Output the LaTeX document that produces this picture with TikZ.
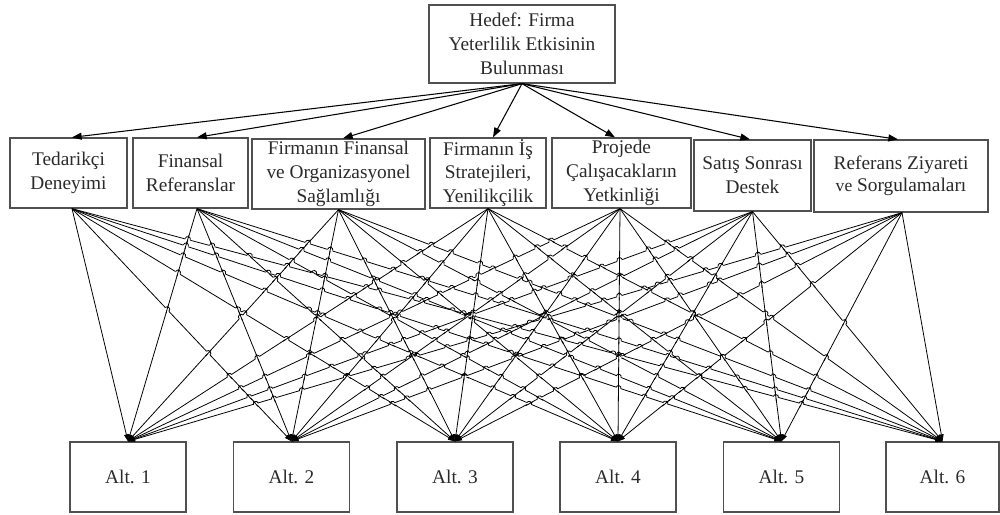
\documentclass[tikz,border=0pt]{standalone}
\usepackage{fontspec}
\setmainfont{Liberation Serif}
\usetikzlibrary{arrows.meta,calc}
\definecolor{boxline}{HTML}{505050}
\definecolor{inkgray}{HTML}{2A2A2A}
% line end points in hundreds of units (for the jump calculation)
\def\SrcX{{0.72,1.97,3.385,4.88,6.20,7.525,9.02}}
\def\SrcY{{2.08,2.08,2.09,2.08,2.08,2.11,2.12}}
\def\TgtX{{1.28,2.915,4.55,6.18,7.815,9.425}}
\def\TgtY{4.42}
\begin{document}
\begin{tikzpicture}[x=0.02cm,y=-0.02cm,
  box/.style={draw=boxline,line width=0.75pt,inner sep=0pt,align=center,
    text=inkgray,font=\fontsize{11}{13.6}\selectfont},
  critbox/.style={box,minimum height=1.4cm},
  altbox/.style={box,minimum width=2.32cm,minimum height=1.4cm},
  toparrow/.style={draw=black,line width=0.6pt,-{Triangle[length=5.5pt,width=4pt]}},
  link/.style={draw=black,line width=0.45pt,-{Triangle[length=4pt,width=2.6pt]}},
  thin/.style={draw=black,line width=0.45pt}]
\useasboundingbox (0,0) rectangle (1000,514);

% goal
\node[box,minimum width=3.72cm,minimum height=1.56cm] (goal) at (522,44)
  {Hedef: Firma\\Yeterlilik Etkisinin\\Bulunması};

% criteria
\node[critbox,minimum width=2.34cm] (c1) at (68.5,173) {Tedarikçi\\Deneyimi};
\node[critbox,minimum width=2.30cm] (c2) at (190.5,173) {Finansal\\Referanslar};
\node[critbox,minimum width=3.46cm] (c3) at (338.5,174) {Firmanın Finansal\\ve Organizasyonel\\Sağlamlığı};
\node[critbox,minimum width=2.32cm] (c4) at (488,173) {Firmanın İş\\Stratejileri,\\Yenilikçilik};
\node[critbox,minimum width=2.78cm] (c5) at (621.5,173) {Projede\\Çalışacakların\\Yetkinliği};
\node[critbox,minimum width=2.34cm,minimum height=1.42cm] (c6) at (752.5,175.5) {Satış Sonrası\\Destek};
\node[critbox,minimum width=3.48cm,minimum height=1.44cm] (c7) at (901,176)
  {Referans Ziyareti\\[-1pt]{\fontsize{10}{12}\selectfont ve} Sorgulamaları};

% alternatives
\node[altbox] (a1) at (128,477) {Alt. 1};
\node[altbox] (a2) at (291.5,477) {Alt. 2};
\node[altbox] (a3) at (455,477) {Alt. 3};
\node[altbox] (a4) at (618,477) {Alt. 4};
\node[altbox] (a5) at (781.5,477) {Alt. 5};
\node[altbox,minimum width=2.26cm] (a6) at (942.5,477) {Alt. 6};

% arrow entry points on top of the criteria and line exits at their bottoms
\foreach \i/\dt/\db in {1/3.5/3.5, 2/6.5/6.5, 3/4.5/0, 4/5/0, 5/-6.5/-1.5, 6/-2.5/0, 7/-3/1}{
  \coordinate (c\i-t) at ($(c\i.north)+(\dt,0)$);
  \coordinate (c\i-b) at ($(c\i.south)+(\db,0)$);
}

% goal to criteria
\foreach \i in {1,...,7}
  \draw[toparrow] (goal.south) -- (c\i-t);

% every criterion to every alternative
\foreach \i in {1,...,7}
  \foreach \j in {1,...,6}
    \draw[link] (c\i-b) -- (a\j.north);

% line jumps: at each crossing the flatter line hops over the steeper one
\def\hop{2.6}
\foreach \i in {0,...,5}{
 \pgfmathtruncatemacro\kfirst{\i+1}
 \foreach \k in {\kfirst,...,6}{
  \foreach \j in {1,...,5}{
   \pgfmathtruncatemacro\llast{\j-1}
   \foreach \l in {0,...,\llast}{
    \pgfmathsetmacro\xa{\SrcX[\i]}
    \pgfmathsetmacro\ya{\SrcY[\i]}
    \pgfmathsetmacro\xb{\TgtX[\j]}
    \pgfmathsetmacro\xc{\SrcX[\k]}
    \pgfmathsetmacro\yc{\SrcY[\k]}
    \pgfmathsetmacro\xd{\TgtX[\l]}
    \pgfmathsetmacro\dxa{\xb-\xa}
    \pgfmathsetmacro\dya{\TgtY-\ya}
    \pgfmathsetmacro\dxc{\xd-\xc}
    \pgfmathsetmacro\dyc{\TgtY-\yc}
    \pgfmathsetmacro\dd{\dxa*\dyc-\dya*\dxc}
    \pgfmathsetmacro\tpar{((\xc-\xa)*\dyc-(\yc-\ya)*\dxc)/\dd}
    \pgfmathsetmacro\Px{100*(\xa+\tpar*\dxa)}
    \pgfmathsetmacro\Py{100*(\ya+\tpar*\dya)}
    \pgfmathsetmacro\lenA{sqrt(\dxa*\dxa+\dya*\dya)}
    \pgfmathsetmacro\lenC{sqrt(\dxc*\dxc+\dyc*\dyc)}
    \pgfmathsetmacro\pick{(abs(\dxa)/\dya>abs(\dxc)/\dyc)?1:0}
    \pgfmathsetmacro\hx{\pick*\dxa/\lenA+(1-\pick)*\dxc/\lenC}
    \pgfmathsetmacro\hy{\pick*\dya/\lenA+(1-\pick)*\dyc/\lenC}
    \pgfmathsetmacro\ox{(1-\pick)*\dxa/\lenA+\pick*\dxc/\lenC}
    \pgfmathsetmacro\oy{(1-\pick)*\dya/\lenA+\pick*\dyc/\lenC}
    \pgfmathsetmacro\sgn{(\hx<0)?-1:1}
    \pgfmathsetmacro\hx{\sgn*\hx}
    \pgfmathsetmacro\hy{\sgn*\hy}
    \coordinate (P) at (\Px,\Py);
    \coordinate (A) at ($(P)-\hop*(\hx,\hy)$);
    \coordinate (B) at ($(P)+\hop*(\hx,\hy)$);
    \draw[white,line width=1.3pt] (A) -- (B);
    \draw[thin] ($(P)-4*(\ox,\oy)$) -- ($(P)+4*(\ox,\oy)$);
    \draw[thin] (A) .. controls ($(A)+1.33*\hop*(\hy,-\hx)$)
                          and ($(B)+1.33*\hop*(\hy,-\hx)$) .. (B);
   }
  }
 }
}
\end{tikzpicture}
\end{document}
